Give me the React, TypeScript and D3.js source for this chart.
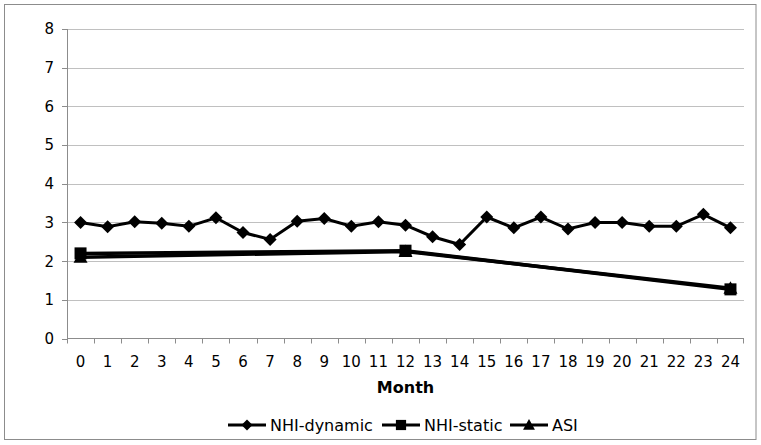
import React from "react";
import * as d3 from "d3";

const months = d3.range(0, 25).map(String);
const nhiDynamic = [3.0, 2.89, 3.02, 2.98, 2.9, 3.12, 2.74, 2.56, 3.03, 3.1, 2.9, 3.02, 2.93, 2.63, 2.43, 3.14, 2.86, 3.14, 2.83, 3.0, 3.0, 2.9, 2.9, 3.21, 2.86];
const staticMonths = ["0", "12", "24"];
const nhiStatic = [2.2, 2.27, 1.27];
const asi = [2.1, 2.25, 1.3];
const yTicks = [0, 1, 2, 3, 4, 5, 6, 7, 8];

const W = 761, H = 445;
const L = 67, R = 744, T = 29, B = 338.5;

function Marker({ type, x, y, k = 1 }: { type: string; x: number; y: number; k?: number }) {
  if (type === "diamond") {
    const s = 6.5 * k;
    return <path d={`M${x},${y - s}L${x + s},${y}L${x},${y + s}L${x - s},${y}Z`} fill="#000" />;
  }
  if (type === "square") {
    const s = 6 * k;
    return <rect x={x - s} y={y - s} width={2 * s} height={2 * s} fill="#000" />;
  }
  const s = 7 * k;
  return <path d={`M${x},${y - s}L${x + s},${y + s * 0.8}L${x - s},${y + s * 0.8}Z`} fill="#000" />;
}

export default function App() {
  const x = d3.scaleBand<string>().domain(months).range([L, R]);
  const y = d3.scaleLinear().domain([0, 8]).range([B, T]);
  const cx = (m: string) => (x(m) as number) + x.bandwidth() / 2;
  const line = d3.line<[number, number]>().x((d) => d[0]).y((d) => d[1]);

  const dynPts: [number, number][] = months.map((m, i) => [cx(m), y(nhiDynamic[i])]);
  const statPts: [number, number][] = staticMonths.map((m, i) => [cx(m), y(nhiStatic[i])]);
  const asiPts: [number, number][] = staticMonths.map((m, i) => [cx(m), y(asi[i])]);

  const font = "'DejaVu Sans', Verdana, sans-serif";
  const legend = [
    { name: "NHI-dynamic", type: "diamond", x0: 228, x1: 266 },
    { name: "NHI-static", type: "square", x0: 382, x1: 420 },
    { name: "ASI", type: "triangle", x0: 510, x1: 548 },
  ];
  const ly = 425;

  return (
    <svg width={W} height={H} style={{ position: "absolute", left: 0, top: 0 }} fontFamily={font}>
      <rect x={0} y={0} width={W} height={H} fill="#fff" />
      <rect x={4.5} y={4.5} width={751.5} height={435} fill="none" stroke="#8c8c8c" strokeWidth={1} />
      {yTicks.slice(1).map((t) => (
        <line key={t} x1={L} x2={R} y1={Math.round(y(t)) + 0.5} y2={Math.round(y(t)) + 0.5} stroke="#c0c0c0" strokeWidth={1} />
      ))}
      <line x1={L + 0.5} x2={L + 0.5} y1={T} y2={B} stroke="#8c8c8c" />
      <line x1={L} x2={R} y1={B} y2={B} stroke="#8c8c8c" />
      {yTicks.map((t) => (
        <g key={t}>
          <line x1={L - 5} x2={L} y1={Math.round(y(t)) + 0.5} y2={Math.round(y(t)) + 0.5} stroke="#8c8c8c" />
          <text x={54} y={y(t)} dy="0.36em" textAnchor="end" fontSize={15} fill="#000">{t}</text>
        </g>
      ))}
      {months.map((m) => (
        <line key={m} x1={Math.round(x(m) as number) + 0.5} x2={Math.round(x(m) as number) + 0.5} y1={B} y2={B + 5} stroke="#8c8c8c" />
      ))}
      <line x1={R - 0.5} x2={R - 0.5} y1={B} y2={B + 5} stroke="#8c8c8c" />
      {months.map((m) => (
        <text key={m} x={cx(m)} y={362} dy="0.36em" textAnchor="middle" fontSize={15} fill="#000">{m}</text>
      ))}
      <text x={(L + R) / 2} y={387} dy="0.36em" textAnchor="middle" fontSize={16} fontWeight="bold" fill="#000">Month</text>

      <path d={line(asiPts) || ""} fill="none" stroke="#000" strokeWidth={3.5} />
      <path d={line(statPts) || ""} fill="none" stroke="#000" strokeWidth={3.5} />
      <path d={line(dynPts) || ""} fill="none" stroke="#000" strokeWidth={3} />
      {asiPts.map((p, i) => <Marker key={"a" + i} type="triangle" x={p[0]} y={p[1]} />)}
      {statPts.map((p, i) => <Marker key={"s" + i} type="square" x={p[0]} y={p[1]} />)}
      {dynPts.map((p, i) => <Marker key={"d" + i} type="diamond" x={p[0]} y={p[1]} />)}

      {legend.map((l) => (
        <g key={l.name}>
          <line x1={l.x0} x2={l.x1} y1={ly} y2={ly} stroke="#000" strokeWidth={3} />
          <Marker type={l.type} x={(l.x0 + l.x1) / 2} y={ly} k={0.85} />
          <text x={l.x1 + 4} y={ly} dy="0.36em" fontSize={16} fill="#000">{l.name}</text>
        </g>
      ))}
    </svg>
  );
}
